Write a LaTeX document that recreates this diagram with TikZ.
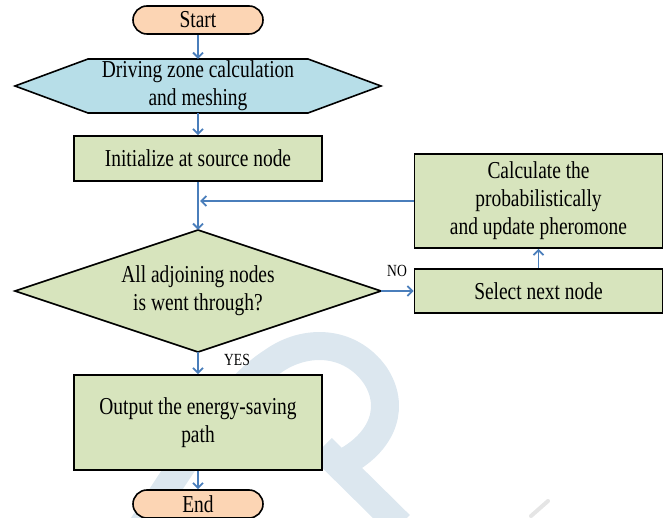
\documentclass[tikz,border=0pt]{standalone}
\usepackage{fontspec}
\setmainfont{Liberation Serif}[FakeStretch=0.8]
\usetikzlibrary{arrows.meta}
\definecolor{peach}{RGB}{252,213,180}
\definecolor{aqua}{RGB}{183,222,232}
\definecolor{olive}{RGB}{215,228,189}
\definecolor{flow}{RGB}{74,126,187}
\definecolor{wmark}{RGB}{220,231,239}
\begin{document}
\begin{tikzpicture}[x=1pt,y=-1pt,
  txt/.style={font=\fontsize{24.3}{28}\selectfont, align=center, inner sep=0pt},
  outline/.style={draw=black, line width=1.6pt, line join=miter},
  terminal/.style={txt, outline, fill=peach, rounded corners=14pt,
                   minimum width=130pt, minimum height=28pt},
  procbox/.style={txt, outline, fill=olive, minimum width=248pt},
  flowarrow/.style={draw=flow, line width=1.8pt, -{Straight Barb[length=5pt,width=10pt]}},
  tag/.style={font=\fontsize{17}{20}\selectfont, inner sep=0pt}]
\useasboundingbox (0,0) rectangle (666,518);

% faint background mark
\begin{scope}
  \clip (0,0) rectangle (666,518);
  \draw[wmark, line width=28pt] (140,530) .. controls (190,450) and (235,385) .. (272,362)
        .. controls (305,338) and (350,340) .. (375,375)
        .. controls (395,405) and (385,440) .. (345,462);
  \draw[wmark, line width=28pt] (322,448) -- (400,525);
  \draw[black!10, line width=4pt, line cap=round] (531,516) -- (548,501);
\end{scope}

% hexagon for the preparation step and diamond for the decision
\draw[outline, fill=aqua]
  (15,86) -- (88,59) -- (308,59) -- (381,86) -- (308,113) -- (88,113) -- cycle;
\draw[outline, fill=olive]
  (15,291) -- (198,230) -- (381,291) -- (198,352) -- cycle;

\node[terminal] (start) at (198,20) {Start};
\node[txt, minimum width=366pt, minimum height=54pt] (zone) at (198,86)
  {Driving zone calculation\\and meshing};
\node[procbox, minimum height=45pt] (init) at (198,158.5) {Initialize at source node};
\node[txt, minimum width=366pt, minimum height=122pt] (dec) at (198,291)
  {All adjoining nodes\\is went through?};
\node[procbox, minimum height=94pt] (calc) at (538.5,201)
  {Calculate the\\probabilistically\\and update pheromone};
\node[procbox, minimum height=44pt] (select) at (538.5,291) {Select next node};
\node[procbox, minimum height=95pt] (output) at (198,422.5)
  {Output the energy-saving\\path};
\node[terminal] (end) at (198,504) {End};

\node[tag] (no) at (397,271) {NO};
\node[tag] (yes) at (237,360) {YES};

\draw[flowarrow] (start) -- (zone);
\draw[flowarrow] (zone) -- (init);
\draw[flowarrow] (init) -- (dec);
\draw[flowarrow, shorten >=2pt] (calc.west) -- (calc.west -| init.south);
\draw[flowarrow] (dec.east) -- (dec.east -| select.west);
\draw[flowarrow] (select) -- (calc);
\draw[flowarrow] (dec) -- (output);
\draw[flowarrow] (output) -- (end);
\end{tikzpicture}
\end{document}
